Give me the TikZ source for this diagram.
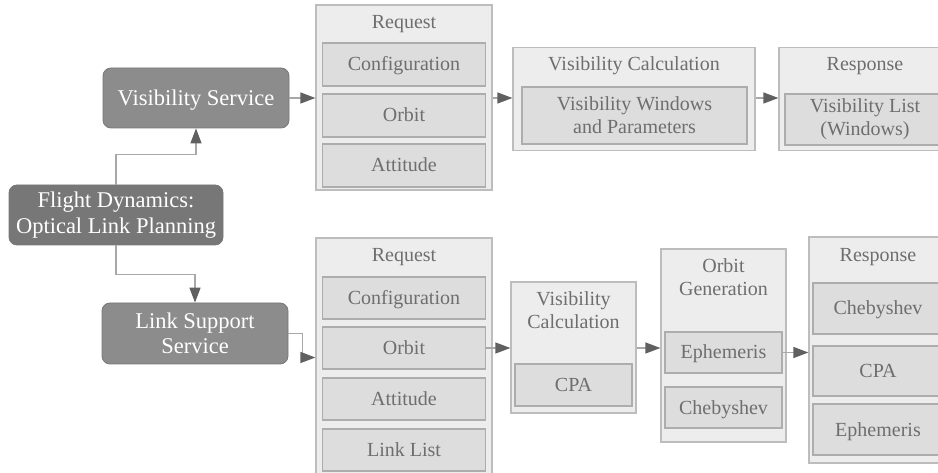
\documentclass[tikz,border=0pt]{standalone}
\usepackage{fontspec}
\setmainfont{Liberation Serif}
\usetikzlibrary{arrows.meta}

\definecolor{fondocaja}{HTML}{EDEDED}
\definecolor{bordecaja}{HTML}{BDBDBD}
\definecolor{fondoint}{HTML}{DDDDDD}
\definecolor{bordeint}{HTML}{ADADAD}
\definecolor{textogris}{HTML}{6E6E6E}
\definecolor{servicio}{HTML}{8C8C8C}
\definecolor{principal}{HTML}{777777}
\definecolor{linea}{HTML}{A8A8A8}
\definecolor{punta}{HTML}{606060}

\tikzset{
  caja/.style={draw=bordecaja, fill=fondocaja, line width=1.2pt, inner sep=0pt},
  interior/.style={draw=bordeint, fill=fondoint, line width=1.2pt, inner sep=0pt,
    text=textogris, align=center, font=\fontsize{20}{23}\selectfont},
  celda/.style={interior, text height=14pt, text depth=1pt},
  titulo/.style={text=textogris, align=center, inner sep=0pt,
    font=\fontsize{20}{23}\selectfont},
  titulo1/.style={titulo, text height=14pt, text depth=1pt},
  servbox/.style={draw=servicio!85!black, fill=servicio, rounded corners=8pt,
    line width=0.8pt, text=white, align=center, inner sep=0pt,
    font=\fontsize{22.5}{25.5}\selectfont},
  flecha/.style={draw=linea, line width=1.2pt,
    -{Triangle[length=15pt,width=11pt,color=punta]}}
}

\begin{document}
\begin{tikzpicture}[x=1pt, y=-1pt]
  \useasboundingbox (0,0) rectangle (938,473);

  % Servicios
  \node[servbox, fill=principal, minimum width=214pt, minimum height=60pt]
    (fd) at (116,215) {Flight Dynamics:\\Optical Link Planning};
  \node[servbox, text height=15.5pt, text depth=1pt, minimum width=186pt, minimum height=60pt]
    (vs) at (196,98) {Visibility Service};
  \node[servbox, minimum width=186pt, minimum height=61pt]
    (ls) at (195,333.5) {Link Support\\Service};

  % Fila superior: peticion
  \node[caja, minimum width=176pt, minimum height=185pt] (req1) at (404,97.5) {};
  \node[titulo1] (req1t) at (404,22) {Request};
  \node[celda, minimum width=163pt, minimum height=43pt] (cfg1) at (404,64.5) {Configuration};
  \node[celda, minimum width=163pt, minimum height=43pt] (orb1) at (404,115.5) {Orbit};
  \node[celda, minimum width=163pt, minimum height=43pt] (att1) at (404,165.5) {Attitude};

  % Fila superior: calculo de visibilidad
  \node[caja, minimum width=242pt, minimum height=103pt] (vc1) at (634,99) {};
  \node[titulo1] (vc1t) at (634,64) {Visibility Calculation};
  \node[interior, minimum width=225pt, minimum height=57pt] (vw1) at (634.5,115.5)
    {Visibility Windows\\and Parameters};

  % Fila superior: respuesta
  \node[caja, minimum width=172pt, minimum height=103pt] (resp1) at (865,99) {};
  \node[titulo1] (resp1t) at (865,64) {Response};
  \node[interior, minimum width=160pt, minimum height=51pt] (vl1) at (865,119.5)
    {Visibility List\\(Windows)};

  % Fila inferior: peticion
  \node[caja, minimum width=176pt, minimum height=239pt] (req2) at (404,357.5) {};
  \node[titulo1] (req2t) at (404,255) {Request};
  \foreach \nom/\txt/\y in {cfg2/Configuration/298, orb2/Orbit/348,
                            att2/Attitude/399, ll2/Link List/450} {
    \node[celda, minimum width=163pt, minimum height=42pt] (\nom) at (404,\y) {\txt};
  }

  % Fila inferior: calculo de visibilidad
  \node[caja, minimum width=125pt, minimum height=131pt] (vc2) at (573.5,347.5) {};
  \node[titulo] (vc2t) at (573.5,310) {Visibility\\Calculation};
  \node[celda, minimum width=117pt, minimum height=42pt] (cpa2) at (573.5,385) {CPA};

  % Fila inferior: generacion de orbita
  \node[caja, minimum width=125pt, minimum height=193pt] (og) at (723.5,345.5) {};
  \node[titulo] (ogt) at (723.5,277) {Orbit\\Generation};
  \node[celda, minimum width=117pt, minimum height=41pt] (eph2) at (723.5,352.5) {Ephemeris};
  \node[celda, minimum width=117pt, minimum height=41pt] (cheb2) at (723.5,407.5) {Chebyshev};

  % Fila inferior: respuesta
  \node[caja, minimum width=138pt, minimum height=226pt] (resp2) at (878,350) {};
  \node[titulo1] (resp2t) at (878,255) {Response};
  \node[celda, minimum width=130pt, minimum height=51pt] (cheb3) at (878,308.5) {Chebyshev};
  \node[celda, minimum width=130pt, minimum height=50pt] (cpa3) at (878,371) {CPA};
  \node[celda, minimum width=130pt, minimum height=51pt] (eph3) at (878,429.5) {Ephemeris};

  % Conexiones
  \draw[flecha] (fd.north) -- ++(0,-30) -| (vs.south);
  \draw[flecha] (fd.south) -- ++(0,29) -| (ls.north);
  \draw[flecha] (vs.east) -- (vs.east -| req1.west);
  \draw[flecha] (req1.east |- vs.east) -- (vs.east -| vc1.west);
  \draw[flecha] (vc1.east |- vs.east) -- (vs.east -| resp1.west);
  \draw[flecha] (ls.east) -- ++(14,0) |- (req2.west);
  \draw[flecha] (orb2.east) -- (orb2.east -| vc2.west);
  \draw[flecha] (vc2.east |- orb2.east) -- (orb2.east -| og.west);
  \draw[flecha] (eph2.east) -- (eph2.east -| resp2.west);
\end{tikzpicture}
\end{document}
